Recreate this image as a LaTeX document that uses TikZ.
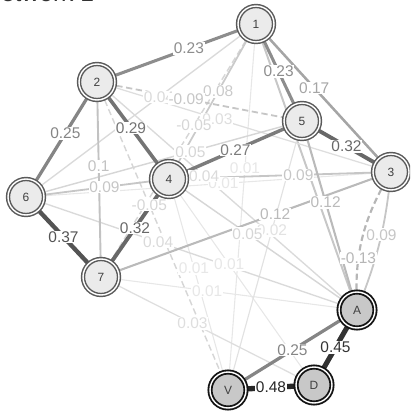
\documentclass[tikz,border=0pt]{standalone}
\usepackage{fontspec}
\setmainfont{Liberation Sans}
\usetikzlibrary{backgrounds}
\definecolor{nodefill}{HTML}{EBEBEB}
\definecolor{obsfill}{HTML}{C8C8C8}
\definecolor{ringgray}{HTML}{5A5A5A}
\definecolor{ringdark}{HTML}{141414}
\tikzset{
  varnode/.style={
    circle, fill=nodefill, draw=ringgray, line width=1.05pt,
    double=white, double distance=1.0pt, minimum size=25.6pt,
    inner sep=0pt, font=\fontsize{8.5}{9}\selectfont, text=black!75
  },
  obsnode/.style={
    varnode, fill=obsfill, draw=ringdark, line width=1.3pt
  },
  posedge/.style={},
  negedge/.style={dash pattern=on 4.5pt off 2.5pt},
  edgelabel/.style={
    fill=white, inner sep=0.6pt, font=\fontsize{11}{12}\selectfont
  },
}
\newcommand{\edgelist}{%
  n4/V/0.01/0.417/0/posedge, n7/A/0.01/0.407/0/posedge,
  n4/D/0.01/0.408/0/posedge, n3/n6/0.01/0.455/0/posedge,
  n1/V/0.01/0.385/0/posedge, n5/V/0.02/0.398/0/posedge,
  n2/n3/0.03/0.401/0/posedge, n7/D/0.03/0.423/0/posedge,
  n1/n6/0.04/0.415/0/posedge, n2/A/0.04/0.404/0/posedge,
  n6/A/0.04/0.39/0/posedge, n5/n6/0.05/0.396/0/posedge,
  n4/A/0.05/0.41/0/posedge, n2/V/-0.05/0.39/0/negedge,
  n1/n7/-0.05/0.392/0/negedge, n1/n4/0.08/0.428/0/posedge,
  n2/n5/-0.09/0.429/0/negedge, n3/n4/0.09/0.41/0/posedge,
  n4/n6/0.09/0.447/0/posedge, n3/A/0.09/0.44/8/posedge,
  n2/n7/0.1/0.426/0/posedge, n5/A/0.12/0.423/0/posedge,
  n3/n7/0.12/0.39/0/posedge, n3/A/-0.13/0.65/-17/negedge,
  n1/n3/0.17/0.425/0/posedge, n1/n2/0.23/0.415/0/posedge,
  n1/n5/0.23/0.49/0/posedge, V/A/0.25/0.5/0/posedge,
  n2/n6/0.25/0.44/0/posedge, n5/n4/0.27/0.5/0/posedge,
  n2/n4/0.29/0.47/0/posedge, n5/n3/0.32/0.5/0/posedge,
  n7/n4/0.32/0.5/0/posedge, n6/n7/0.37/0.5/0/posedge,
  A/D/0.45/0.5/0/posedge, V/D/0.48/0.5/0/posedge}

\begin{document}
\begin{tikzpicture}[x=0.025cm, y=-0.025cm]
  \useasboundingbox (0,0) rectangle (410,413);
  \clip (0,0) rectangle (410,413);

  % title, cut off at the top
  \node[anchor=base west, inner sep=0pt, font=\fontsize{17.5}{19}\selectfont,
        text=black!80] (title) at (-17,2) {Network 1};

  % variables
  \node[varnode] (n1) at (256,24) {1};
  \node[varnode] (n2) at (97,82) {2};
  \node[varnode] (n3) at (391,172) {3};
  \node[varnode] (n4) at (169,179) {4};
  \node[varnode] (n5) at (302,121) {5};
  \node[varnode] (n6) at (26,197) {6};
  \node[varnode] (n7) at (101,277) {7};
  \node[obsnode] (A) at (357,310) {A};
  \node[obsnode] (V) at (228,390) {V};
  \node[obsnode] (D) at (314,385) {D};

  \begin{scope}[on background layer]
    \draw[black!22, line width=1.4pt] (n1.center) -- (A.center);
    % edges, weakest first
    \foreach \a/\b/\w/\p/\bend/\ls in \edgelist {
      \pgfmathsetmacro{\shade}{min(85,8+160*abs(\w))}
      \pgfmathsetmacro{\lw}{0.709*(1+9*abs(\w))}
      \draw[black!\shade, line width=\lw pt, \ls]
        (\a.center) to[bend left=\bend] (\b.center);
    }
    % weights on top of all edges
    \foreach \a/\b/\w/\p/\bend/\ls [count=\i] in \edgelist {
      \pgfmathsetmacro{\shade}{min(85,8+160*abs(\w))}
      \path (\a.center) to[bend left=\bend]
        node[edgelabel, pos=\p, text=black!\shade] (lab\i) {\w} (\b.center);
    }
  \end{scope}
\end{tikzpicture}
\end{document}
